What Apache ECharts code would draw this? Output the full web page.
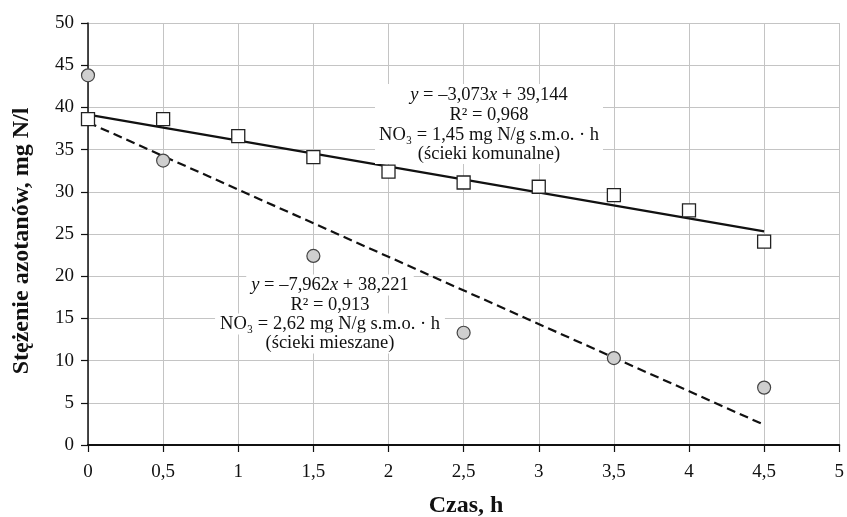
<!DOCTYPE html>
<html>
<head>
<meta charset="utf-8">
<script src="https://cdn.jsdelivr.net/npm/echarts@6/dist/echarts.min.js"></script>
<style>
html,body{margin:0;padding:0;background:#fff;}
#chart{width:847px;height:517px;}
</style>
</head>
<body>
<div id="chart"></div>
<script>
// Data
var timeKomunalne = [0, 0.5, 1, 1.5, 2, 2.5, 3, 3.5, 4, 4.5];
var komunalneValues = [38.6, 38.6, 36.6, 34.1, 32.4, 31.1, 30.6, 29.6, 27.8, 24.1];
var timeMieszane = [0, 0.5, 1.5, 2.5, 3.5, 4.5];
var mieszaneValues = [43.8, 33.7, 22.4, 13.3, 10.3, 6.8];
var trendX = [0, 4.5];
var trendKomunalne = [39.14, 25.32];
var trendMieszane = [38.22, 2.39];
var xTickLabels = ['0', '0,5', '1', '1,5', '2', '2,5', '3', '3,5', '4', '4,5', '5'];
var yTickLabels = ['0', '5', '10', '15', '20', '25', '30', '35', '40', '45', '50'];
var annotationKomunalne = ['y = –3,073x + 39,144', 'R² = 0,968', 'NO₃ = 1,45 mg N/g s.m.o. · h', '(ścieki komunalne)'];
var annotationMieszane = ['y = –7,962x + 38,221', 'R² = 0,913', 'NO₃ = 2,62 mg N/g s.m.o. · h', '(ścieki mieszane)'];
var xTitle = 'Czas, h';
var yTitle = 'Stężenie azotanów, mg N/l';

function pairs(xs, ys) { return xs.map(function (x, i) { return [x, ys[i]]; }); }

var FONT = '"Liberation Serif", "Times New Roman", serif';
var chart = echarts.init(document.getElementById('chart'), null, {renderer: 'canvas'});

function lineText(str, cx, cy, bg) {
  var rich = str.indexOf('y = ') === 0;
  var t = {
    type: 'text', x: cx, y: cy, z: 50,
    style: {
      text: rich ? '{i|y} = ' + str.slice(4).replace(/x/, '{i|x}') : str,
      font: '18.5px ' + FONT, fill: '#111',
      align: 'center', verticalAlign: 'middle',
      rich: {i: {fontStyle: 'italic', fontSize: 18.5, fontFamily: FONT, fill: '#111'}}
    }
  };
  if (bg) { t.style.backgroundColor = '#fff'; t.style.padding = [1, 5]; }
  return t;
}

var graphics = [];
// komunalne: single white box
graphics.push({type: 'rect', z: 49, shape: {x: 375, y: 84, width: 228, height: 80}, style: {fill: '#fff'}});
var k_y = [95, 115, 135, 154];
annotationKomunalne.forEach(function (s, i) { graphics.push(lineText(s, 489, k_y[i], false)); });
var m_y = [285, 305, 324, 343];
annotationMieszane.forEach(function (s, i) { graphics.push(lineText(s, 330, m_y[i], true)); });
graphics.push({type: 'text', x: 466, y: 506, z: 50, style: {text: xTitle, font: 'bold 24px ' + FONT, fill: '#111', align: 'center', verticalAlign: 'middle'}});
graphics.push({type: 'text', x: 22, y: 241, rotation: Math.PI / 2, z: 50, style: {text: yTitle, font: 'bold 24px ' + FONT, fill: '#111', align: 'center', verticalAlign: 'middle'}});

chart.setOption({
  animation: false,
  backgroundColor: '#fff',
  grid: {left: 88, top: 23, right: 6, bottom: 72, containLabel: false},
  xAxis: {
    type: 'value', min: 0, max: 5, interval: 0.5,
    axisLine: {show: true, onZero: false, lineStyle: {color: '#111', width: 2}},
    axisTick: {show: true, inside: false, length: 7, lineStyle: {color: '#111', width: 1.2}},
    axisLabel: {
      margin: 18, color: '#111', fontFamily: FONT, fontSize: 19,
      formatter: function (v) { return xTickLabels[Math.round(v * 2)]; }
    },
    splitLine: {show: true, lineStyle: {color: '#c4c4c4', width: 1}}
  },
  yAxis: {
    type: 'value', min: 0, max: 50, interval: 5,
    axisLine: {show: true, lineStyle: {color: '#111', width: 1.5}},
    axisTick: {show: true, inside: false, length: 7, lineStyle: {color: '#111', width: 1.2}},
    axisLabel: {
      margin: 14, color: '#111', fontFamily: FONT, fontSize: 19,
      formatter: function (v) { return yTickLabels[Math.round(v / 5)]; }
    },
    splitLine: {show: true, lineStyle: {color: '#c4c4c4', width: 1}}
  },
  graphic: graphics,
  series: [
    {
      type: 'line', data: pairs(trendX, trendKomunalne), symbol: 'none', z: 3,
      lineStyle: {color: '#111', width: 2.2, type: 'solid'}
    },
    {
      type: 'line', data: pairs(trendX, trendMieszane), symbol: 'none', z: 3,
      lineStyle: {color: '#111', width: 2.2, type: [9, 5]}
    },
    {
      type: 'scatter', data: pairs(timeMieszane, mieszaneValues), symbol: 'circle', symbolSize: 13, z: 60,
      itemStyle: {color: '#cfcfcf', borderColor: '#444', borderWidth: 1.2, opacity: 1}
    },
    {
      type: 'scatter', data: pairs(timeKomunalne, komunalneValues), symbol: 'rect', symbolSize: 13, z: 60,
      itemStyle: {color: '#fff', borderColor: '#222', borderWidth: 1.3, opacity: 1}
    }
  ]
});
</script>
</body>
</html>
